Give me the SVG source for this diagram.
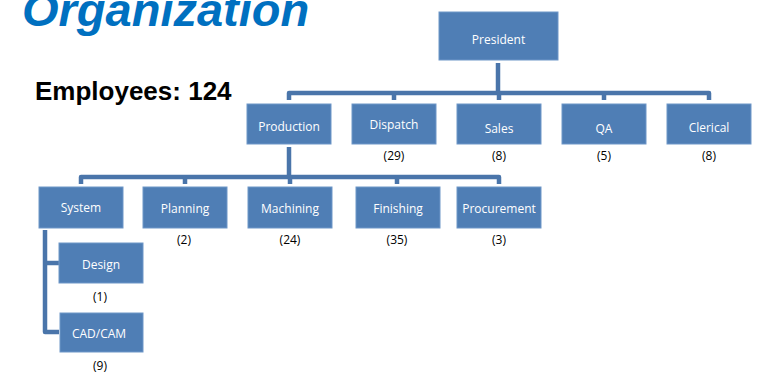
<svg xmlns="http://www.w3.org/2000/svg" width="764" height="372" viewBox="0 0 764 372">
<style>
.box{fill:#4F7EB5;stroke:#6F97C8;stroke-width:1}
.bt{font-family:"Open Sans","Liberation Sans",sans-serif;font-size:12px;fill:#FFFFFF;text-anchor:middle;dominant-baseline:central}
.ct{font-family:"Open Sans","Liberation Sans",sans-serif;font-size:12px;fill:#000000;text-anchor:middle;dominant-baseline:central}
.ln{fill:none;stroke:#4A75AA;stroke-width:4.5;stroke-linejoin:round}
</style>
<rect width="764" height="372" fill="#FFFFFF"/>
<text x="22" y="26" font-family="'Liberation Sans',Arial,sans-serif" font-size="47" font-weight="bold" font-style="italic" fill="#0070C0">Organization</text>
<text x="35" y="100" font-family="'Liberation Sans',Arial,sans-serif" font-size="26" font-weight="bold" fill="#000000">Employees: 124</text>
<g id="connectors">
<path class="ln" d="M498,63 V93"/>
<path class="ln" d="M289,100 V93 H709 V100"/>
<path class="ln" d="M394,93 V100 M499,93 V100 M604,93 V100"/>
<path class="ln" d="M289,147 V177"/>
<path class="ln" d="M81,184 V177 H499 V184"/>
<path class="ln" d="M185,177 V184 M290,177 V184 M397,177 V184"/>
<path class="ln" d="M45,230 V332 H59"/>
<path class="ln" d="M45,263 H59"/>
</g>
<g id="president"><rect class="box" x="439" y="12" width="119" height="48"/><text class="bt" x="498.5" y="39">President</text></g>
<g id="production"><rect class="box" x="247" y="104" width="84" height="40"/><text class="bt" x="289" y="126">Production</text></g>
<g id="dispatch"><rect class="box" x="352" y="104" width="84" height="40"/><text class="bt" x="394" y="124">Dispatch</text><text class="ct" x="394" y="155">(29)</text></g>
<g id="sales"><rect class="box" x="457" y="104" width="84" height="40"/><text class="bt" x="499" y="128">Sales</text><text class="ct" x="499" y="155">(8)</text></g>
<g id="qa"><rect class="box" x="562" y="104" width="84" height="40"/><text class="bt" x="604" y="128">QA</text><text class="ct" x="604" y="155">(5)</text></g>
<g id="clerical"><rect class="box" x="667" y="104" width="84" height="40"/><text class="bt" x="709" y="127">Clerical</text><text class="ct" x="709" y="155">(8)</text></g>
<g id="system"><rect class="box" x="39" y="187" width="84" height="41"/><text class="bt" x="81" y="207">System</text></g>
<g id="planning"><rect class="box" x="143" y="187" width="84" height="41"/><text class="bt" x="185" y="208">Planning</text><text class="ct" x="184" y="239">(2)</text></g>
<g id="machining"><rect class="box" x="248" y="187" width="84" height="41"/><text class="bt" x="290" y="208">Machining</text><text class="ct" x="290" y="239">(24)</text></g>
<g id="finishing"><rect class="box" x="356" y="187" width="84" height="41"/><text class="bt" x="398" y="208">Finishing</text><text class="ct" x="397" y="239">(35)</text></g>
<g id="procurement"><rect class="box" x="457" y="187" width="84" height="41"/><text class="bt" x="499" y="208">Procurement</text><text class="ct" x="499" y="239">(3)</text></g>
<g id="design"><rect class="box" x="59" y="243" width="84" height="40"/><text class="bt" x="101" y="264">Design</text><text class="ct" x="100" y="296">(1)</text></g>
<g id="cadcam"><rect class="box" x="60" y="313" width="83" height="39"/><text class="bt" x="99" y="333">CAD/CAM</text><text class="ct" x="100" y="365">(9)</text></g>
</svg>
